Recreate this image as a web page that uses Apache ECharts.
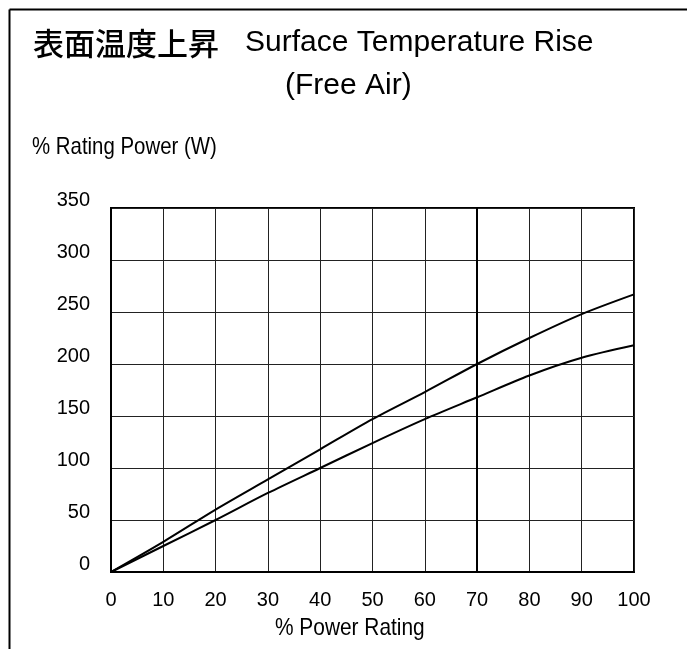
<!DOCTYPE html>
<html><head><meta charset="utf-8">
<script src="https://cdn.jsdelivr.net/npm/echarts@6/dist/echarts.min.js"></script>
<style>html,body{margin:0;padding:0;background:#fff}#c{width:687px;height:649px}</style>
</head><body><div id="c"></div>
<script>
const xValues = [0, 10, 20, 30, 40, 50, 60, 70, 80, 90, 100];
const upperRise = [0, 29, 60, 89, 118, 147, 173, 200, 225, 248, 267];
const lowerRise = [0, 25, 50, 76, 100, 124, 147, 168, 189, 206, 218];
const titleCJK = '表面温度上昇';
const titleLatin = 'Surface Temperature Rise';
const titleLine2 = '(Free Air)';
const yName = '% Rating Power (W)';
const xName = '% Power Rating';

const chart = echarts.init(document.getElementById('c'));
const pair = arr => xValues.map((x, i) => [x, arr[i]]);
const latin = '"Liberation Sans","Noto Sans CJK JP",sans-serif';
const cjk = '"Noto Sans CJK JP",sans-serif';
chart.setOption({
  animation: false,
  grid: {left: 111, top: 208, right: 53, bottom: 77, show: true, borderColor: '#000', borderWidth: 2},
  xAxis: {
    type: 'value', min: 0, max: 100, interval: 10,
    axisLine: {show: true, lineStyle: {color: '#000', width: 2}},
    axisTick: {show: false},
    axisLabel: {color: '#000', fontSize: 20, margin: 18, fontFamily: 'Liberation Sans'},
    splitLine: {show: true, lineStyle: {color: '#222', width: 1}}
  },
  yAxis: {
    type: 'value', min: 0, max: 350, interval: 50,
    axisLine: {show: true, lineStyle: {color: '#000', width: 2}},
    axisTick: {show: false},
    axisLabel: {color: '#000', fontSize: 20, margin: 21, fontFamily: 'Liberation Sans',
      verticalAlign: 'bottom', lineHeight: 16},
    splitLine: {show: true, lineStyle: {color: '#222', width: 1}}
  },
  series: [
    {type: 'line', data: pair(upperRise), smooth: 0.3, showSymbol: false,
     lineStyle: {color: '#000', width: 2},
     markLine: {silent: true, symbol: 'none', label: {show: false},
       lineStyle: {color: '#000', width: 2, type: 'solid'}, data: [{xAxis: 70}]}},
    {type: 'line', data: pair(lowerRise), smooth: 0.3, showSymbol: false,
     lineStyle: {color: '#000', width: 2}}
  ],
  graphic: [
    {type: 'line', shape: {x1: 9.5, y1: 9.5, x2: 687, y2: 9.5}, style: {stroke: '#000', lineWidth: 2}},
    {type: 'line', shape: {x1: 9.5, y1: 9.5, x2: 9.5, y2: 649}, style: {stroke: '#000', lineWidth: 2}},
    {type: 'text', x: 33, y: 43, style: {text: titleCJK, fill: '#000', font: '500 31px ' + cjk, verticalAlign: 'middle'}},
    {type: 'text', x: 245, y: 43, style: {text: titleLatin, fill: '#000', font: '30px ' + latin, verticalAlign: 'middle'}},
    {type: 'text', x: 285, y: 86, style: {text: titleLine2, fill: '#000', font: '30px ' + latin, verticalAlign: 'middle'}},
    {type: 'text', x: 32, y: 147, style: {text: yName, fill: '#000', font: '24px ' + latin, verticalAlign: 'middle'}, scaleX: 0.85, originX: 0},
    {type: 'text', x: 275, y: 628, style: {text: xName, fill: '#000', font: '24px ' + latin, verticalAlign: 'middle'}, scaleX: 0.87, originX: 0}
  ]
});
</script></body></html>
